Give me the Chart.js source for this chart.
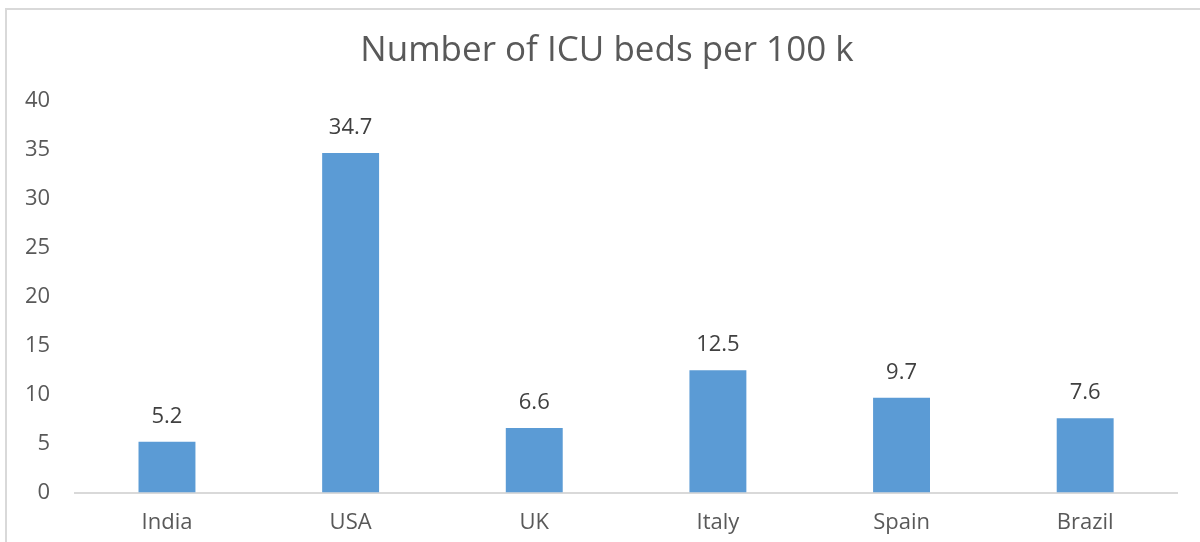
<!DOCTYPE html>
<html>
<head>
<meta charset="utf-8">
<script src="https://cdn.jsdelivr.net/npm/chart.js@4"></script>
<style>
  body { margin: 0; background: #fff; }
  canvas { display: block; }
</style>
</head>
<body>
<canvas id="myChart" width="1200" height="542"></canvas>
<script>
const countries = ["India", "USA", "UK", "Italy", "Spain", "Brazil"];
const icuBeds = [5.2, 34.7, 6.6, 12.5, 9.7, 7.6];
const chartTitle = "Number of ICU beds per 100 k";

// outer frame + title, drawn like the spreadsheet chart
const framePlugin = {
  id: "frame",
  beforeDraw(chart) {
    const ctx = chart.ctx;
    ctx.save();
    ctx.fillStyle = "#fff";
    ctx.fillRect(0, 0, chart.width, chart.height);
    ctx.strokeStyle = "#d9d9d9";
    ctx.lineWidth = 2;
    ctx.strokeRect(6, 9, chart.width + 20, chart.height + 20);
    ctx.font = "35px 'Open Sans'";
    ctx.fillStyle = "#595959";
    ctx.textAlign = "center";
    ctx.textBaseline = "middle";
    ctx.fillText(chartTitle, 607, 51);
    ctx.restore();
  }
};

// value labels above each bar
const valueLabels = {
  id: "valueLabels",
  afterDatasetsDraw(chart) {
    const ctx = chart.ctx;
    ctx.save();
    ctx.font = "22px 'Open Sans'";
    ctx.fillStyle = "#404040";
    ctx.textAlign = "center";
    ctx.textBaseline = "middle";
    chart.getDatasetMeta(0).data.forEach((bar, i) => {
      ctx.fillText(icuBeds[i].toFixed(1), bar.x, bar.y - 25);
    });
    ctx.restore();
  }
};

new Chart("myChart", {
  type: "bar",
  data: {
    labels: countries,
    datasets: [{
      data: icuBeds,
      backgroundColor: "#5b9bd5",
      borderWidth: 0,
      categoryPercentage: 1,
      barPercentage: 0.31
    }]
  },
  options: {
    responsive: false,
    animation: false,
    layout: { padding: { left: 0, right: 23, top: 101, bottom: -11 } },
    plugins: {
      legend: { display: false },
      tooltip: { enabled: false },
      title: { display: false }
    },
    scales: {
      y: {
        min: 0,
        max: 40,
        ticks: {
          stepSize: 5,
          color: "#595959",
          font: { family: "'Open Sans'", size: 22 },
          padding: 25
        },
        grid: { display: false, drawTicks: false },
        border: { display: false }
      },
      x: {
        ticks: {
          color: "#595959",
          font: { family: "'Open Sans'", size: 22 },
          padding: 17
        },
        grid: { display: false, drawTicks: false },
        border: { display: true, color: "#d9d9d9", width: 2 }
      }
    }
  },
  plugins: [framePlugin, valueLabels]
});
</script>
</body>
</html>
